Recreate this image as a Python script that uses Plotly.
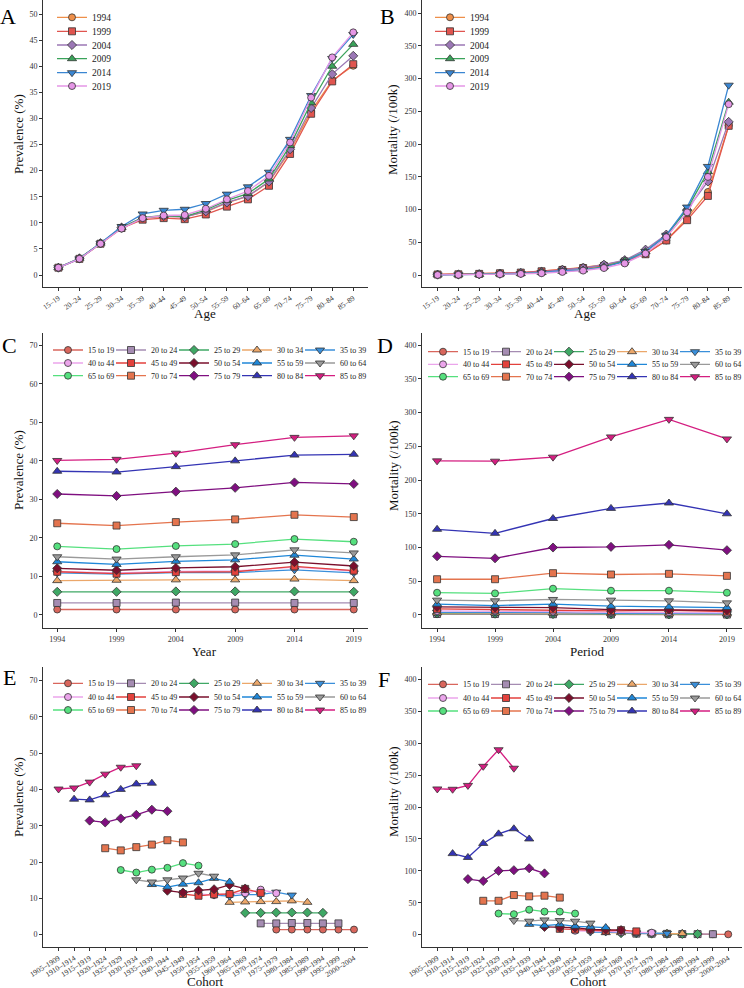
import plotly.graph_objects as go

# ---------------- data ----------------
age_groups = ["15–19", "20–24", "25–29", "30–34", "35–39", "40–44", "45–49", "50–54",
              "55–59", "60–64", "65–69", "70–74", "75–79", "80–84", "85–89"]
age_names = ["15 to 19", "20 to 24", "25 to 29", "30 to 34", "35 to 39", "40 to 44",
             "45 to 49", "50 to 54", "55 to 59", "60 to 64", "65 to 69", "70 to 74",
             "75 to 79", "80 to 84", "85 to 89"]
age_start = [15, 20, 25, 30, 35, 40, 45, 50, 55, 60, 65, 70, 75, 80, 85]
years = [1994, 1999, 2004, 2009, 2014, 2019]
cohorts = ["1905–1909", "1910–1914", "1915–1919", "1920–1924", "1925–1929", "1930–1934",
           "1935–1939", "1940–1944", "1945–1949", "1950–1954", "1955–1959", "1960–1964",
           "1965–1969", "1970–1974", "1975–1979", "1980–1984", "1985–1989", "1990–1994",
           "1995–1999", "2000–2004"]

# prevalence (%) by age group, across years 1994..2019
prev_15_19 = [1.4, 1.4, 1.4, 1.4, 1.4, 1.4]
prev_20_24 = [3.1, 3.1, 3.2, 3.2, 3.1, 3.1]
prev_25_29 = [6.0, 6.0, 6.1, 6.1, 6.1, 6.0]
prev_30_34 = [8.9, 9.0, 9.1, 9.1, 9.3, 8.9]
prev_35_39 = [10.9, 10.6, 11.0, 11.0, 11.7, 10.9]
prev_40_44 = [11.2, 10.9, 11.3, 11.4, 12.4, 11.4]
prev_45_49 = [11.2, 10.7, 11.1, 11.2, 12.6, 11.5]
prev_50_54 = [12.1, 11.6, 12.2, 12.5, 13.7, 12.7]
prev_55_59 = [13.8, 13.1, 13.9, 14.3, 15.5, 14.5]
prev_60_64 = [15.1, 14.5, 15.1, 15.6, 16.9, 16.1]
prev_65_69 = [17.8, 17.1, 17.9, 18.4, 19.7, 19.0]
prev_70_74 = [23.8, 23.2, 24.1, 24.8, 26.0, 25.4]
prev_75_79 = [31.4, 30.9, 32.0, 33.0, 34.4, 34.0]
prev_80_84 = [37.3, 37.1, 38.5, 40.0, 41.5, 41.7]
prev_85_89 = [40.1, 40.4, 42.0, 44.2, 46.1, 46.5]

# mortality (/100k) by age group, across years 1994..2019
mort_15_19 = [1.2, 1.1, 0.8, 0.6, 0.5, 0.4]
mort_20_24 = [1.5, 1.4, 1.1, 0.8, 0.7, 0.6]
mort_25_29 = [2.2, 2.0, 1.6, 1.2, 1.0, 0.9]
mort_30_34 = [3.0, 3.0, 2.5, 2.0, 1.5, 1.5]
mort_35_39 = [4.0, 4.0, 3.5, 2.5, 2.5, 2.0]
mort_40_44 = [6.0, 6.0, 5.0, 4.0, 4.0, 3.0]
mort_45_49 = [9.0, 8.0, 8.0, 6.0, 7.0, 5.0]
mort_50_54 = [12.0, 11.0, 11.0, 8.0, 8.0, 7.0]
mort_55_59 = [16.0, 14.0, 16.0, 13.0, 12.0, 11.0]
mort_60_64 = [22.0, 21.0, 23.0, 22.0, 21.0, 18.0]
mort_65_69 = [33.0, 32.0, 39.0, 36.0, 36.0, 33.0]
mort_70_74 = [53.0, 53.0, 62.0, 60.0, 61.0, 58.0]
mort_75_79 = [87.0, 84.0, 100.0, 101.0, 104.0, 96.0]
mort_80_84 = [127.0, 121.0, 143.0, 158.0, 166.0, 150.0]
mort_85_89 = [228.5, 228.0, 234.0, 264.0, 290.0, 261.0]

prevalence = [prev_15_19, prev_20_24, prev_25_29, prev_30_34, prev_35_39, prev_40_44,
              prev_45_49, prev_50_54, prev_55_59, prev_60_64, prev_65_69, prev_70_74,
              prev_75_79, prev_80_84, prev_85_89]
mortality = [mort_15_19, mort_20_24, mort_25_29, mort_30_34, mort_35_39, mort_40_44,
             mort_45_49, mort_50_54, mort_55_59, mort_60_64, mort_65_69, mort_70_74,
             mort_75_79, mort_80_84, mort_85_89]

# ---------------- styles ----------------
year_colors = ["#EE8F4A", "#E0554F", "#9B77B5", "#3AA35A", "#3A86D2", "#E596E6"]
year_symbols = ["circle", "square", "diamond", "triangle-up", "triangle-down", "circle"]
age_colors = ["#D9665C", "#A58CB2", "#3FA865", "#EBA76A", "#3A8FDA", "#EBA5EB", "#E3413C",
              "#7A0F2C", "#1F87D8", "#9A9A9A", "#55E07E", "#E4744E", "#7F0F80", "#3434B4",
              "#D41E80"]
age_symbols = ["circle", "square", "diamond", "triangle-up", "triangle-down"] * 3

W, H = 744, 988
SERIF = "Liberation Serif"


def px_x(v):
    return v / W


def px_y(v):
    return 1 - v / H


def msize(sym):
    return 8 if sym.startswith("triangle") else 7


fig = go.Figure()


def add_line(x, y, name, color, sym, xa, ya, legend):
    fig.add_trace(go.Scatter(
        x=x, y=y, name=name, mode="lines+markers",
        line=dict(color=color, width=1.3),
        marker=dict(symbol=sym, size=msize(sym), color=color,
                    line=dict(color="#333333", width=0.8)),
        xaxis=xa, yaxis=ya, legend=legend, showlegend=True))


# one small legend box per entry, placed in container coordinates
legends = {}
leg_counter = [0]


def new_legend(marker_x, center_y, size):
    leg_counter[0] += 1
    key = "legend" if leg_counter[0] == 1 else "legend%d" % leg_counter[0]
    legends[key] = dict(x=px_x(marker_x - 20), y=px_y(center_y), xref="container",
                        yref="container", xanchor="left", yanchor="middle",
                        bgcolor="rgba(0,0,0,0)", borderwidth=0,
                        font=dict(family=SERIF, size=size, color="#222222"))
    return key


# Panel A: prevalence by age, one line per year
rowsA = [17.3, 31.3, 45.0, 58.7, 72.7, 86.0]
for j, yr in enumerate(years):
    lg = new_legend(72, rowsA[j], 9.5)
    add_line(age_groups, [prevalence[i][j] for i in range(len(age_groups))], str(yr),
             year_colors[j], year_symbols[j], "x", "y", lg)

# Panel B: mortality by age
for j, yr in enumerate(years):
    lg = new_legend(450, rowsA[j], 9.5)
    add_line(age_groups, [mortality[i][j] for i in range(len(age_groups))], str(yr),
             year_colors[j], year_symbols[j], "x2", "y2", lg)

PITCH = 63


def age_panel(values, xa, ya, m0, rows, use_cohort):
    for i, nm in enumerate(age_names):
        lg = new_legend(m0 + PITCH * (i % 5), rows[i // 5], 8)
        if use_cohort:
            xs = ["%d–%d" % (yr - age_start[i] - 4, yr - age_start[i]) for yr in years]
        else:
            xs = years
        add_line(xs, values[i], nm, age_colors[i], age_symbols[i], xa, ya, lg)


age_panel(prevalence, "x3", "y3", 68, [350.0, 363.0, 375.7], False)
age_panel(mortality, "x4", "y4", 443, [351.7, 364.3, 376.7], False)
age_panel(prevalence, "x5", "y5", 68, [683.3, 697.0, 710.0], True)
age_panel(mortality, "x6", "y6", 443, [684.3, 698.0, 711.0], True)

# ---------------- layout ----------------
axis_common = dict(showline=True, linecolor="#333333", linewidth=1, ticks="outside",
                   ticklen=3, tickcolor="#333333", showgrid=False, zeroline=False,
                   automargin=False,
                   tickfont=dict(family=SERIF, size=8, color="#333333"))
small_tick = dict(family=SERIF, size=7.5, color="#333333")

xl = [px_x(43), px_x(368)]
xr = [px_x(422), px_x(742)]
yt = [px_y(287), px_y(0)]
ym = [px_y(628), px_y(333)]
yb = [px_y(947), px_y(667)]

layout = dict(width=W, height=H, margin=dict(l=0, r=0, t=0, b=0, autoexpand=False),
              paper_bgcolor="white", plot_bgcolor="white", autosize=False)

layout["xaxis"] = dict(axis_common, domain=xl, anchor="y", type="category",
                       categoryorder="array", categoryarray=age_groups,
                       range=[-0.73, 14.7], tickangle=-35, tickfont=small_tick)
layout["yaxis"] = dict(axis_common, domain=yt, anchor="x", range=[-2.3, 52.7],
                       tickvals=list(range(0, 51, 5)))
layout["xaxis2"] = dict(axis_common, domain=xr, anchor="y2", type="category",
                        categoryorder="array", categoryarray=age_groups,
                        range=[-0.75, 14.64], tickangle=-35, tickfont=small_tick)
layout["yaxis2"] = dict(axis_common, domain=yt, anchor="x2", range=[-18, 420],
                        tickvals=list(range(0, 401, 50)))
layout["xaxis3"] = dict(axis_common, domain=xl, anchor="y3", range=[1992.8, 2020.2],
                        tickvals=years)
layout["yaxis3"] = dict(axis_common, domain=ym, anchor="x3", range=[-3.4, 73.2],
                        tickvals=list(range(0, 71, 10)))
layout["xaxis4"] = dict(axis_common, domain=xr, anchor="y4", range=[1992.7, 2020.3],
                        tickvals=years)
layout["yaxis4"] = dict(axis_common, domain=ym, anchor="x4", range=[-19.3, 418],
                        tickvals=list(range(0, 401, 50)))
layout["xaxis5"] = dict(axis_common, domain=xl, anchor="y5", type="category",
                        categoryorder="array", categoryarray=cohorts,
                        range=[-1.0, 19.9], tickangle=-32, tickfont=small_tick)
layout["yaxis5"] = dict(axis_common, domain=yb, anchor="x5", range=[-3.4, 73.7],
                        tickvals=list(range(0, 71, 10)))
layout["xaxis6"] = dict(axis_common, domain=xr, anchor="y6", type="category",
                        categoryorder="array", categoryarray=cohorts,
                        range=[-1.0, 19.9], tickangle=-32, tickfont=small_tick)
layout["yaxis6"] = dict(axis_common, domain=yb, anchor="x6", range=[-19.5, 419.8],
                        tickvals=list(range(0, 401, 50)))

layout.update(legends)

annotations = []
letters = [("A", 8, 16), ("B", 387, 16), ("C", 9, 345), ("D", 385, 345),
           ("E", 9, 677), ("F", 384, 679)]
for t, xp, yp in letters:
    annotations.append(dict(text=t, x=px_x(xp), y=px_y(yp), xref="paper", yref="paper",
                            showarrow=False, xanchor="center", yanchor="middle",
                            font=dict(family=SERIF, size=22, color="#000000")))

titles = [("Age", 205, 314, 0), ("Age", 585, 314, 0),
          ("Year", 205, 651, 0), ("Period", 587, 651, 0),
          ("Cohort", 206, 981, 0), ("Cohort", 588, 981, 0),
          ("Prevalence (%)", 18, 134, -90), ("Mortality (/100k)", 393, 130, -90),
          ("Prevalence (%)", 18, 470, -90), ("Mortality (/100k)", 393, 466, -90),
          ("Prevalence (%)", 18, 797, -90), ("Mortality (/100k)", 393, 792, -90)]
for t, xp, yp, ang in titles:
    annotations.append(dict(text=t, x=px_x(xp), y=px_y(yp), xref="paper", yref="paper",
                            showarrow=False, xanchor="center", yanchor="middle",
                            textangle=ang,
                            font=dict(family=SERIF, size=13, color="#111111")))
layout["annotations"] = annotations

fig.update_layout(**layout)
fig.write_html("out.html", config={"displayModeBar": False},
               post_script="document.body.style.margin='0px';")
